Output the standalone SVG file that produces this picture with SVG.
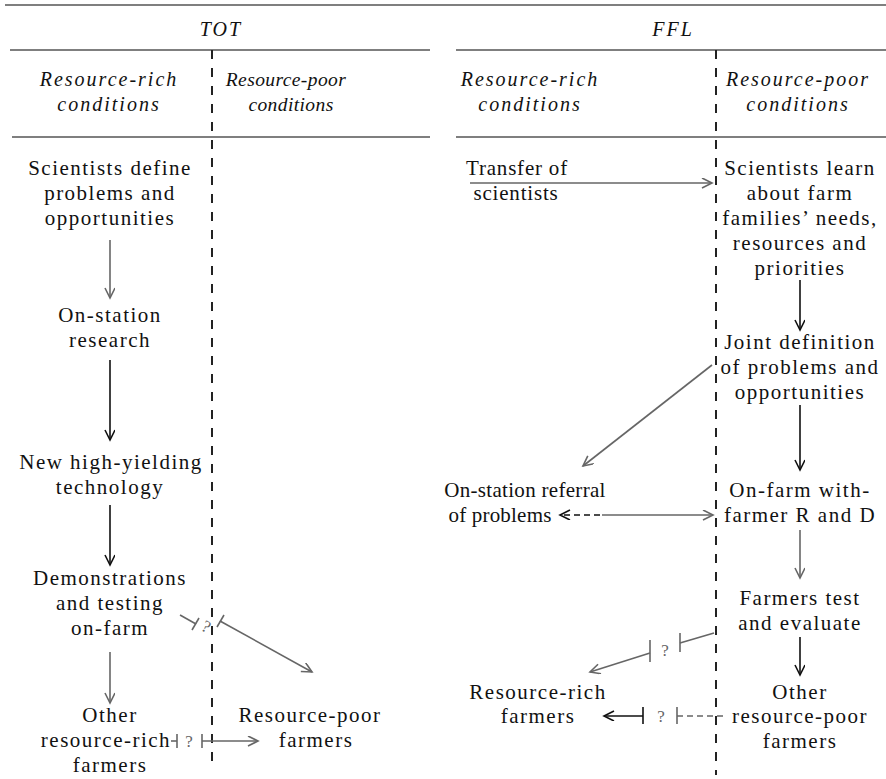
<svg xmlns="http://www.w3.org/2000/svg" width="886" height="779" viewBox="0 0 886 779">
<style>
.t{font-family:"Liberation Serif","Times New Roman",serif;font-size:21px;letter-spacing:1.5px;fill:#111;text-anchor:middle}
.h{font-family:"Liberation Serif","Times New Roman",serif;font-size:20px;font-style:italic;letter-spacing:2px;fill:#111;text-anchor:middle}
.hs{font-family:"Liberation Serif","Times New Roman",serif;font-size:19.5px;font-style:italic;letter-spacing:0.4px;fill:#111;text-anchor:middle}
.q{font-family:"Liberation Serif","Times New Roman",serif;font-size:17px;fill:#666;text-anchor:middle}
.rule{stroke:#555;stroke-width:1.5;fill:none}
.dash{stroke:#222;stroke-width:2;stroke-dasharray:9 9;fill:none}
.g{stroke:#666;stroke-width:1.6;fill:none}
.k{stroke:#111;stroke-width:1.6;fill:none}
.gd{stroke:#666;stroke-width:1.6;fill:none;stroke-dasharray:6 4}
</style>
<defs>
<marker id="ag" markerUnits="userSpaceOnUse" markerWidth="14" markerHeight="12" refX="11" refY="5" orient="auto"><path d="M1,0 L11,5 L1,10" fill="none" stroke="#666" stroke-width="1.6"/></marker>
<marker id="ak" markerUnits="userSpaceOnUse" markerWidth="14" markerHeight="12" refX="11" refY="5" orient="auto"><path d="M1,0 L11,5 L1,10" fill="none" stroke="#111" stroke-width="1.6"/></marker>
</defs>
<g id="frame">
<line class="rule" x1="5" y1="5" x2="886" y2="5"/>
<line class="rule" x1="10" y1="50" x2="430" y2="50"/>
<line class="rule" x1="456" y1="50" x2="886" y2="50"/>
<line class="rule" x1="12" y1="137" x2="430" y2="137"/>
<line class="rule" x1="456" y1="137" x2="886" y2="137"/>
<line class="dash" x1="212" y1="50" x2="212" y2="770"/>
<line class="dash" x1="716" y1="50" x2="716" y2="775"/>
<text class="h" x="221" y="36">TOT</text>
<text class="h" x="673" y="36">FFL</text>
<text class="h" x="109" y="86">Resource-rich</text>
<text class="h" x="109" y="111">conditions</text>
<text class="hs" x="286" y="86">Resource-poor</text>
<text class="hs" x="291" y="111">conditions</text>
<text class="h" x="530" y="86">Resource-rich</text>
<text class="h" x="530" y="111">conditions</text>
<text class="h" x="798" y="86">Resource-poor</text>
<text class="h" x="798" y="111">conditions</text>
</g>
<g id="tot-scientists-define"><text class="t" x="110" y="175">Scientists define</text><text class="t" x="110" y="200">problems and</text><text class="t" x="110" y="225">opportunities</text></g>
<g id="tot-on-station"><text class="t" x="110" y="322">On-station</text><text class="t" x="110" y="347">research</text></g>
<g id="tot-new-tech"><text class="t" x="111" y="469">New high-yielding</text><text class="t" x="110" y="494">technology</text></g>
<g id="tot-demonstrations"><text class="t" x="110" y="585">Demonstrations</text><text class="t" x="110" y="610">and testing</text><text class="t" x="110" y="635">on-farm</text></g>
<g id="tot-other-rich"><text class="t" x="110" y="722">Other</text><text class="t" x="106" y="747">resource-rich</text><text class="t" x="110" y="772">farmers</text></g>
<g id="tot-poor-farmers"><text class="t" x="310" y="722">Resource-poor</text><text class="t" x="316" y="747">farmers</text></g>
<g id="ffl-transfer"><text class="t" x="517" y="175" style="letter-spacing:0.8px">Transfer of</text><text class="t" x="516" y="200" style="letter-spacing:0.8px">scientists</text></g>
<g id="ffl-learn"><text class="t" x="800" y="175">Scientists learn</text><text class="t" x="800" y="200">about farm</text><text class="t" x="800" y="225">families’ needs,</text><text class="t" x="800" y="250">resources and</text><text class="t" x="800" y="275">priorities</text></g>
<g id="ffl-joint"><text class="t" x="800" y="349">Joint definition</text><text class="t" x="800" y="374">of problems and</text><text class="t" x="800" y="399">opportunities</text></g>
<g id="ffl-onfarm"><text class="t" x="800" y="497">On-farm with-</text><text class="t" x="800" y="522">farmer R and D</text></g>
<g id="ffl-referral"><text class="t" x="525" y="497" style="letter-spacing:0.3px">On-station referral</text><text class="t" x="500" y="522" style="letter-spacing:0.2px">of problems</text></g>
<g id="ffl-test"><text class="t" x="800" y="605">Farmers test</text><text class="t" x="800" y="630">and evaluate</text></g>
<g id="ffl-rich-farmers"><text class="t" x="538" y="699">Resource-rich</text><text class="t" x="538" y="723">farmers</text></g>
<g id="ffl-other-poor"><text class="t" x="800" y="699">Other</text><text class="t" x="800" y="723">resource-poor</text><text class="t" x="800" y="748">farmers</text></g>
<g id="connectors">
<line class="g" x1="110" y1="240" x2="110" y2="298" marker-end="url(#ag)"/>
<line class="k" x1="110" y1="360" x2="110" y2="440" marker-end="url(#ak)"/>
<line class="k" x1="110" y1="505" x2="110" y2="565" marker-end="url(#ak)"/>
<line class="g" x1="110" y1="652" x2="110" y2="703" marker-end="url(#ag)"/>
<line class="g" x1="180" y1="615" x2="196" y2="624"/>
<line class="g" x1="192" y1="630" x2="199" y2="618"/>
<text class="q" x="206" y="632" transform="rotate(28 206 627)">?</text>
<line class="g" x1="217" y1="627" x2="224" y2="615"/>
<line class="g" x1="220" y1="621" x2="312" y2="672" marker-end="url(#ag)"/>
<line class="g" x1="171" y1="741" x2="177" y2="741"/>
<line class="g" x1="177" y1="734" x2="177" y2="748"/>
<text class="q" x="189" y="747">?</text>
<line class="g" x1="202" y1="734" x2="202" y2="748"/>
<line class="g" x1="202" y1="741" x2="258" y2="741" marker-end="url(#ag)"/>
<line class="g" x1="470" y1="183" x2="712" y2="183" marker-end="url(#ag)"/>
<line class="k" x1="800" y1="280" x2="800" y2="330" marker-end="url(#ak)"/>
<line class="k" x1="800" y1="405" x2="800" y2="470" marker-end="url(#ak)"/>
<line class="g" x1="800" y1="530" x2="800" y2="578" marker-end="url(#ag)"/>
<line class="k" x1="800" y1="637" x2="800" y2="675" marker-end="url(#ak)"/>
<line class="g" x1="712" y1="365" x2="583" y2="466" marker-end="url(#ag)"/>
<line class="k" x1="600" y1="515" x2="560" y2="515" marker-end="url(#ak)" stroke-dasharray="6 4"/>
<line class="g" x1="602" y1="515" x2="713" y2="515" marker-end="url(#ag)"/>
<line class="g" x1="714" y1="633" x2="680" y2="643"/>
<line class="g" x1="680" y1="633" x2="680" y2="652"/>
<text class="q" x="665" y="656">?</text>
<line class="g" x1="650" y1="640" x2="650" y2="662"/>
<line class="g" x1="650" y1="653" x2="590" y2="672" marker-end="url(#ag)"/>
<line class="k" x1="643" y1="716" x2="604" y2="716" marker-end="url(#ak)"/>
<line class="k" x1="643" y1="707" x2="643" y2="724"/>
<text class="q" x="661" y="722">?</text>
<line class="g" x1="677" y1="707" x2="677" y2="724"/>
<line class="gd" x1="677" y1="716" x2="724" y2="716"/>
</g>
</svg>
